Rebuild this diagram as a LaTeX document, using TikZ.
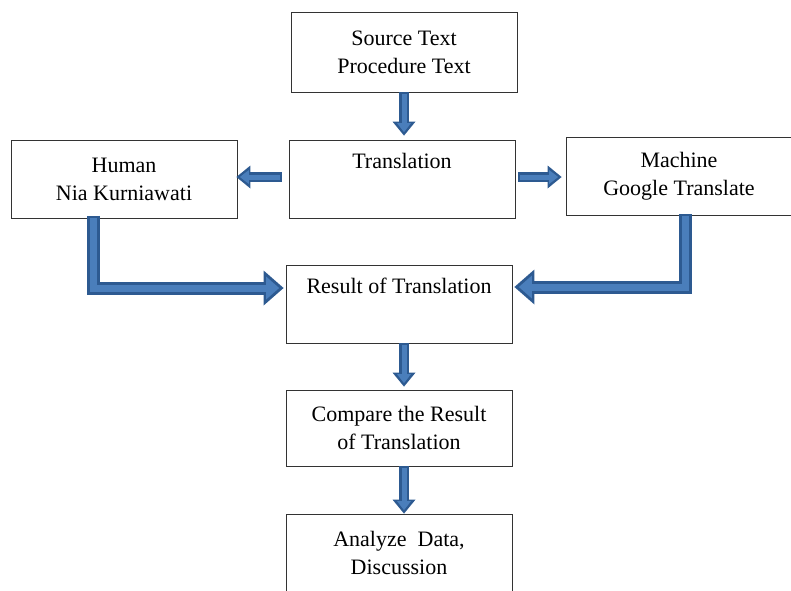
\documentclass[tikz,border=0pt]{standalone}
\usepackage{fontspec}
\setmainfont{Liberation Serif}
\usetikzlibrary{positioning, arrows.meta}
\definecolor{arrowfill}{HTML}{4A7EBB}
\definecolor{arrowedge}{HTML}{2D5A91}
\tikzset{
  box/.style={draw=black!80, line width=0.8pt, fill=white, minimum width=226pt,
              minimum height=78pt, align=center, font=\fontsize{22pt}{28pt}\selectfont},
  toptext/.style={text depth=37pt},
  smallarrow/.style={draw=arrowedge, line width=10pt,
      -{Triangle[length=14pt, width=23pt, line width=0pt]},
      postaction={draw=arrowfill, line width=5pt,
      -{Triangle[length=9pt, width=14pt, line width=0pt]}, shorten >=3.5pt, shorten <=1.5pt}},
  bigarrow/.style={draw=arrowedge, line width=13pt,
      -{Triangle[length=20pt, width=35pt, line width=0pt]},
      postaction={draw=arrowfill, line width=7pt,
      -{Triangle[length=13pt, width=23pt, line width=0pt]}, shorten >=4.5pt, shorten <=2pt}}
}

\begin{document}
\begin{tikzpicture}[node distance=124pt]
\useasboundingbox (0,0) rectangle (791pt,-590pt);

% boxes
\node[box, toptext] (1) at (402pt,-179pt) {Translation};
\node[box, above of=1, xshift=2pt, yshift=3pt, minimum height=80pt] (0) {Source Text\\Procedure Text};
\node[box, node distance=278pt, left of=1, yshift=-0.5pt] (2) {Human\\Nia Kurniawati};
\node[box, node distance=277pt, right of=1, yshift=3pt] (3) {Machine\\Google Translate};
\node[box, toptext, below of=1, xshift=-3pt, yshift=-1pt] (4) {Result of Translation};
\node[box, below of=4, minimum height=76pt] (5) {Compare the Result\\of Translation};
\node[box, below of=5, yshift=-1pt] (6) {Analyze~ Data,\\Discussion};

% block arrows
\draw[smallarrow] (0.south) -- ([xshift=2pt, yshift=4pt]1.north);
\draw[smallarrow] ([xshift=-7pt, yshift=2pt]1.west) -- ([xshift=-1pt, yshift=2.5pt]2.east);
\draw[smallarrow] ([xshift=3pt, yshift=2pt]1.east) -- ([xshift=-4pt, yshift=-1pt]3.west);
\draw[bigarrow] ([xshift=-31pt, yshift=3pt]2.south) |- ([xshift=-2pt, yshift=16pt]4.west);
\draw[bigarrow] ([xshift=6pt, yshift=1pt]3.south) |- ([xshift=2pt, yshift=17pt]4.east);
\draw[smallarrow] ([xshift=5pt]4.south) -- ([xshift=5pt, yshift=3pt]5.north);
\draw[smallarrow] ([xshift=5pt]5.south) -- ([xshift=5pt]6.north);
\end{tikzpicture}
\end{document}
